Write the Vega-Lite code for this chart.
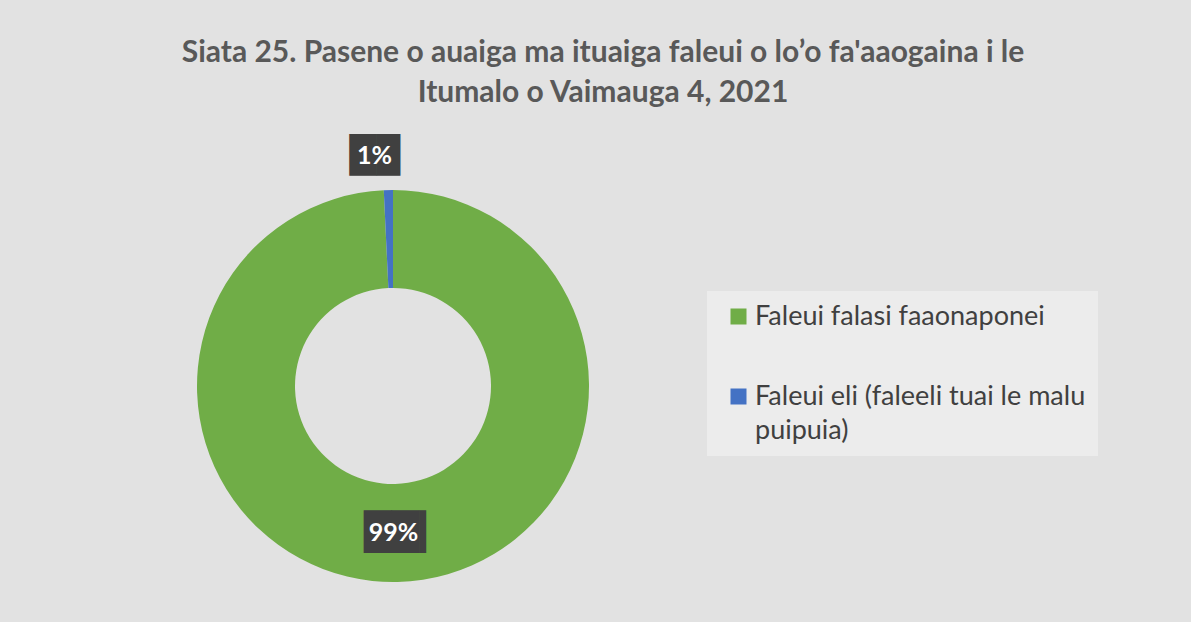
{
  "$schema": "https://vega.github.io/schema/vega-lite/v6.json",
  "width": 392,
  "height": 392,
  "autosize": {"type": "none"},
  "padding": {"left": 197, "top": 190, "right": 602, "bottom": 40},
  "background": "#e2e2e2",
  "title": {
    "text": ["Siata 25. Pasene o auaiga ma ituaiga faleui o lo’o fa'aaogaina i le", "Itumalo o Vaimauga 4, 2021"],
    "anchor": "middle",
    "frame": "group",
    "dx": 210,
    "offset": 31,
    "fontSize": 30,
    "font": "Lato",
    "fontWeight": "bold",
    "color": "#595959",
    "lineHeight": 40
  },
  "data": {
    "values": [
      {"category": "Faleui falasi faaonaponei", "share": 0.9925, "order": 1},
      {"category": "Faleui eli (faleeli tuai le malu puipuia)", "share": 0.0075, "order": 2}
    ]
  },
  "encoding": {
    "theta": {"field": "share", "type": "quantitative", "stack": true},
    "order": {"field": "order", "type": "quantitative"}
  },
  "layer": [
    {
      "mark": {"type": "arc", "innerRadius": 98, "outerRadius": 196},
      "encoding": {
        "color": {
          "field": "category",
          "type": "nominal",
          "scale": {
            "domain": ["Faleui falasi faaonaponei", "Faleui eli (faleeli tuai le malu puipuia)"],
            "range": ["#70AD47", "#4472C4"]
          },
          "legend": {
            "orient": "none",
            "legendX": 510,
            "legendY": 101,
            "title": null,
            "symbolType": "square",
            "symbolSize": 256,
            "symbolStrokeWidth": 0,
            "symbolOffset": 6,
            "labelFont": "Lato",
            "labelFontSize": 27,
            "labelColor": "#404040",
            "labelLimit": 500,
            "labelOffset": 3,
            "rowPadding": 52,
            "padding": 12,
            "fillColor": "#ececec",
            "labelExpr": "datum.label == 'Faleui eli (faleeli tuai le malu puipuia)' ? ['Faleui eli (faleeli tuai le malu', 'puipuia)'] : datum.label",
            "encode": {
              "labels": {"update": {"lineHeight": {"value": 34}}}
            }
          }
        }
      }
    },
    {
      "mark": {"type": "text", "radius": 230, "dx": -11, "text": "█▉", "font": "DejaVu Sans", "fontSize": 35, "color": "#404040", "baseline": "middle"},
      "encoding": {"opacity": {"condition": {"test": "datum.order == 2", "value": 1}, "value": 0}}
    },
    {
      "mark": {"type": "text", "radius": 230, "dx": -13, "font": "Lato", "fontWeight": "bold", "fontSize": 25, "color": "#ffffff", "baseline": "middle"},
      "encoding": {
        "text": {"field": "share", "type": "quantitative", "format": ".0%"},
        "opacity": {"condition": {"test": "datum.order == 2", "value": 1}, "value": 0}
      }
    },
    {
      "mark": {"type": "text", "radius": 147, "dx": 9, "text": "██▎", "font": "DejaVu Sans", "fontSize": 36, "color": "#404040", "baseline": "middle"},
      "encoding": {"opacity": {"condition": {"test": "datum.order == 1", "value": 1}, "value": 0}}
    },
    {
      "mark": {"type": "text", "radius": 147, "dx": -3, "font": "Lato", "fontWeight": "bold", "fontSize": 25, "color": "#ffffff", "baseline": "middle"},
      "encoding": {
        "text": {"field": "share", "type": "quantitative", "format": ".0%"},
        "opacity": {"condition": {"test": "datum.order == 1", "value": 1}, "value": 0}
      }
    }
  ]
}
